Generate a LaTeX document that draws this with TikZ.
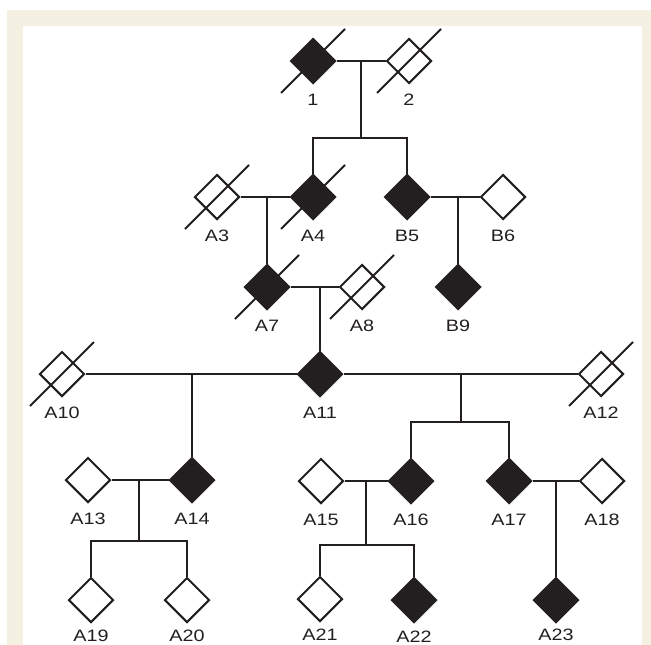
\documentclass[tikz,border=0pt]{standalone}
\usepackage{fontspec}
\setmainfont{Liberation Sans}[FakeStretch=1.2]
\usetikzlibrary{shapes.geometric}
\definecolor{frame}{HTML}{F4F0E2}
\definecolor{ink}{HTML}{231F20}
\tikzset{
  person/.style={diamond, draw=ink, line width=2pt, minimum width=45pt, minimum height=45pt, inner sep=0pt, fill=white},
  aff/.style={person, fill=ink},
  lnk/.style={draw=ink, line width=2pt},
  lab/.style={font=\fontsize{16.5}{19}\selectfont, text=ink, anchor=base, inner sep=0pt},
}
\newcommand{\deceased}[1]{\draw[lnk] ([shift={(-32,32)}]#1.center) -- ([shift={(32,-32)}]#1.center);}
\begin{document}
\begin{tikzpicture}[x=1pt,y=-1pt]
\useasboundingbox (0,0) rectangle (651,645);
\fill[frame] (7,10) rectangle (651,645);
\fill[white] (23,26) rectangle (642,645);

% coordinates for line junctions
\coordinate (m12) at (361,61);
\coordinate (s12) at (361,138);
\coordinate (m34) at (267,197);
\coordinate (m56) at (458,197);
\coordinate (m78) at (320,287);
\coordinate (mL) at (192,374);
\coordinate (mR) at (461,374);
\coordinate (sR) at (461,422);
\coordinate (m1314) at (139,480);
\coordinate (s1314) at (139,541);
\coordinate (m1516) at (366,481);
\coordinate (s1516) at (366,545);
\coordinate (m1718) at (556,481);

% persons
\node[aff] (P1) at (313,61) {};
\node[person] (P2) at (409,61) {};
\node[person] (A3) at (217,197) {};
\node[aff] (A4) at (313,197) {};
\node[aff] (B5) at (407,197) {};
\node[person] (B6) at (503,197) {};
\node[aff] (A7) at (267,287) {};
\node[person] (A8) at (362,287) {};
\node[aff] (B9) at (458,287) {};
\node[person] (A10) at (62,374) {};
\node[aff] (A11) at (320,374) {};
\node[person] (A12) at (601,374) {};
\node[person] (A13) at (88,480) {};
\node[aff] (A14) at (192,480) {};
\node[person] (A15) at (321,481) {};
\node[aff] (A16) at (411,481) {};
\node[aff] (A17) at (509,481) {};
\node[person] (A18) at (602,481) {};
\node[person] (A19) at (91,600) {};
\node[person] (A20) at (187,600) {};
\node[person] (A21) at (320,599) {};
\node[aff] (A22) at (414,600) {};
\node[aff] (A23) at (556,600) {};

% connectors
\draw[lnk] (P1.east) -- (P2.west);
\draw[lnk] (m12) -- (s12);
\draw[lnk] (A4.north) -- (A4.north |- s12) -- (B5.north |- s12) -- (B5.north);
\draw[lnk] (A3.east) -- (A4.west);
\draw[lnk] (m34) -- (A7.north);
\draw[lnk] (B5.east) -- (B6.west);
\draw[lnk] (m56) -- (B9.north);
\draw[lnk] (A7.east) -- (A8.west);
\draw[lnk] (m78) -- (A11.north);
\draw[lnk] (A10.east) -- (A11.west);
\draw[lnk] (A11.east) -- (A12.west);
\draw[lnk] (mL) -- (A14.north);
\draw[lnk] (mR) -- (sR);
\draw[lnk] (A16.north) -- (A16.north |- sR) -- (A17.north |- sR) -- (A17.north);
\draw[lnk] (A13.east) -- (A14.west);
\draw[lnk] (m1314) -- (s1314);
\draw[lnk] (A19.north) -- (A19.north |- s1314) -- (A20.north |- s1314) -- (A20.north);
\draw[lnk] (A15.east) -- (A16.west);
\draw[lnk] (m1516) -- (s1516);
\draw[lnk] (A21.north) -- (A21.north |- s1516) -- (A22.north |- s1516) -- (A22.north);
\draw[lnk] (A17.east) -- (A18.west);
\draw[lnk] (m1718) -- (A23.north);

% deceased marks
\deceased{P1}
\deceased{P2}
\deceased{A3}
\deceased{A4}
\deceased{A7}
\deceased{A8}
\deceased{A10}
\deceased{A12}

% labels
\node[lab] (L1) at (313,105) {1};
\node[lab] (L2) at (409,105) {2};
\node[lab] (L3) at (217,241) {A3};
\node[lab] (L4) at (313,241) {A4};
\node[lab] (L5) at (407,241) {B5};
\node[lab] (L6) at (503,241) {B6};
\node[lab] (L7) at (267,331) {A7};
\node[lab] (L8) at (362,331) {A8};
\node[lab] (L9) at (458,331) {B9};
\node[lab] (L10) at (62,418) {A10};
\node[lab] (L11) at (320,418) {A11};
\node[lab] (L12) at (601,418) {A12};
\node[lab] (L13) at (88,524) {A13};
\node[lab] (L14) at (192,524) {A14};
\node[lab] (L15) at (321,525) {A15};
\node[lab] (L16) at (411,525) {A16};
\node[lab] (L17) at (509,525) {A17};
\node[lab] (L18) at (602,525) {A18};
\node[lab] (L19) at (91,641) {A19};
\node[lab] (L20) at (187,641) {A20};
\node[lab] (L21) at (320,640) {A21};
\node[lab] (L22) at (414,642) {A22};
\node[lab] (L23) at (556,640) {A23};
\end{tikzpicture}
\end{document}
